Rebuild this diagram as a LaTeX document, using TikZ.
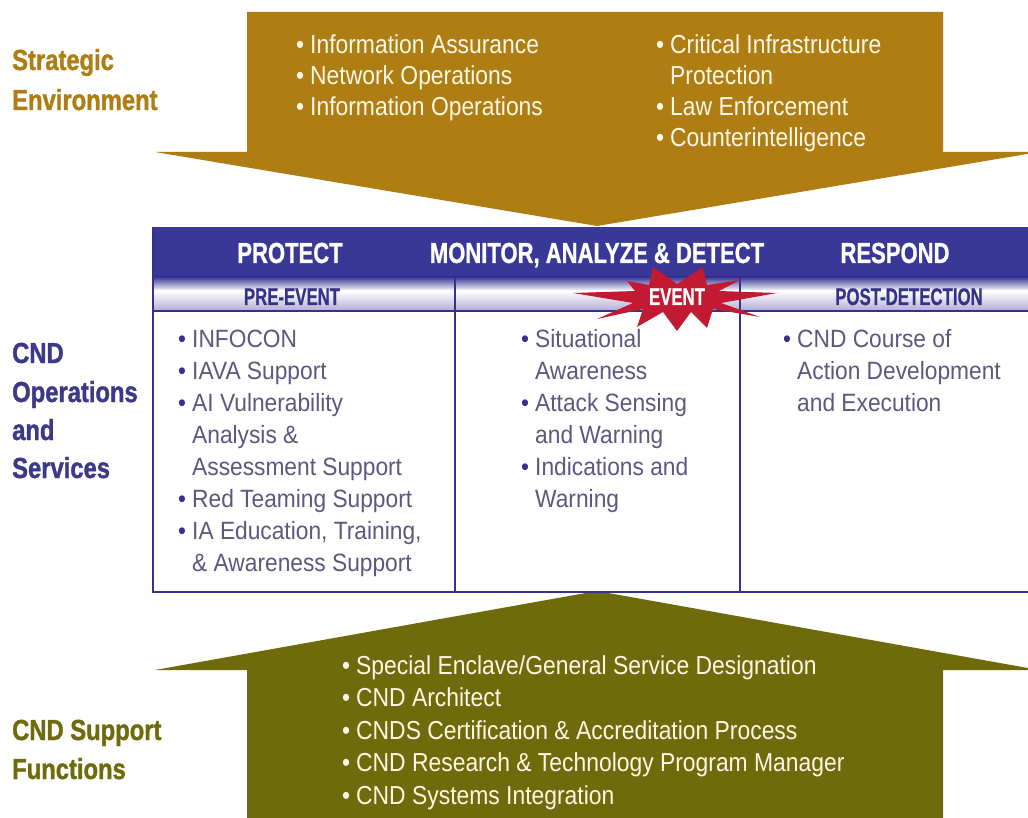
\documentclass[tikz,border=0pt]{standalone}
\usepackage{fontspec}
\setmainfont{Liberation Sans}
\newfontfamily\arrowfont{Liberation Sans}[FakeStretch=0.88]
\newfontfamily\tablefont{Liberation Sans}[FakeStretch=0.91]
\newfontfamily\labelfont{Liberation Sans}[FakeStretch=0.82,FakeBold=1.2]
\newfontfamily\headfont{Liberation Sans}[FakeStretch=0.76,FakeBold=0.8]
\newfontfamily\subfont{Liberation Sans}[FakeStretch=0.70,FakeBold=0.6]

\definecolor{seGold}{HTML}{AE7E14}
\definecolor{supOlive}{HTML}{6F6A0C}
\definecolor{hdrBlue}{HTML}{3A3896}
\definecolor{navyInk}{HTML}{35328A}
\definecolor{opsInk}{HTML}{3C3A88}
\definecolor{lavShade}{HTML}{B4B0D6}
\definecolor{itemInk}{HTML}{5C5880}
\definecolor{creamInk}{HTML}{FFF7E6}
\definecolor{burstRed}{HTML}{C21A33}

% bullets hang to the left of the text start
\newcommand\abul{\llap{\textbullet\hspace{6pt}}}
\newcommand\tbul{\llap{\textcolor{navyInk}{\textbullet}\hspace{6pt}}}

\begin{document}
\begin{tikzpicture}[x=1pt,y=-1pt,
  lbl/.style={anchor=base west, inner sep=0, font=\labelfont\bfseries\fontsize{29}{29}\selectfont},
  atext/.style={anchor=base west, inner sep=0, text=creamInk, font=\arrowfont\fontsize{26}{26}\selectfont},
  ttext/.style={anchor=base west, inner sep=0, text=itemInk, font=\tablefont\fontsize{25}{25}\selectfont},
  htext/.style={anchor=base, inner sep=0, text=white, font=\headfont\bfseries\fontsize{29}{29}\selectfont},
  stext/.style={anchor=base, inner sep=0, text=navyInk, font=\subfont\bfseries\fontsize{24}{24}\selectfont},
  rule/.style={draw=navyInk, line width=2pt},
]
\useasboundingbox (0,0) rectangle (1028,818);
\fill[white] (0,0) rectangle (1028,818);

% ---------- strategic environment arrow (pointing down) ----------
\fill[seGold] (247,12) -- (943,12) -- (943,152) -- (1039,152) -- (597,226)
  -- (155,152) -- (247,152) -- cycle;

\node[atext] (ia)  at (310,54)  {\abul Information Assurance};
\node[atext] (no)  at (310,85)  {\abul Network Operations};
\node[atext] (io)  at (310,116) {\abul Information Operations};
\node[atext] (cip) at (670,54)  {\abul Critical Infrastructure};
\node[atext] (cip2) at (670,85) {Protection};
\node[atext] (le)  at (670,116) {\abul Law Enforcement};
\node[atext] (ci)  at (670,147) {\abul Counterintelligence};

% ---------- support functions arrow (pointing up) ----------
\fill[supOlive] (597,591) -- (1039,670) -- (943,670) -- (943,818) -- (247,818)
  -- (247,670) -- (155,670) -- cycle;

\node[atext] (s1) at (356,674)   {\abul Special Enclave/General Service Designation};
\node[atext] (s2) at (356,706.5) {\abul CND Architect};
\node[atext] (s3) at (356,739)   {\abul CNDS Certification \& Accreditation Process};
\node[atext] (s4) at (356,771.5) {\abul CND Research \& Technology Program Manager};
\node[atext] (s5) at (356,804)   {\abul CND Systems Integration};

% ---------- operations table ----------
\fill[hdrBlue] (153,227) rectangle (1028,277);
\shade[top color=hdrBlue, bottom color=white] (153,277) rectangle (1028,291);
\shade[top color=white, bottom color=lavShade] (153,291) rectangle (1028,310);
\draw[rule] (153,311) -- (1028,311);
\draw[rule] (153,227) -- (153,592) -- (1028,592);
\draw[rule] (455,277) -- (455,592);
\draw[rule] (740,277) -- (740,592);

\node[htext] (protect) at (290,263) {PROTECT};
\node[htext] (monitor) at (597,263) {MONITOR, ANALYZE \& DETECT};
\node[htext] (respond) at (895,263) {RESPOND};

\node[stext] (pre)  at (292,305) {PRE-EVENT};
\node[stext] (post) at (909,305) {POST-DETECTION};

% event burst
\begin{scope}[shift={(677,297)}]
  \fill[burstRed] (-104,-4) -- (-42,-6) -- (-50,-16) -- (-28,-12) -- (-24,-30)
    -- (0,-13) -- (26,-30) -- (30,-12) -- (63,-17) -- (42,-6) -- (100,-4)
    -- (44,6) -- (83,20) -- (36,12) -- (30,31) -- (14,15) -- (0,34)
    -- (-14,15) -- (-40,30) -- (-34,12) -- (-80,22) -- (-44,6) -- cycle;
\end{scope}
\node[stext, text=white] (event) at (677,305) {EVENT};

% pre-event column
\node[ttext] (p1) at (192,347)   {\tbul INFOCON};
\node[ttext] (p2) at (192,379.1) {\tbul IAVA Support};
\node[ttext] (p3) at (192,411.2) {\tbul AI Vulnerability};
\node[ttext] (p4) at (192,443.3) {Analysis \&};
\node[ttext] (p5) at (192,475.4) {Assessment Support};
\node[ttext] (p6) at (192,507.5) {\tbul Red Teaming Support};
\node[ttext] (p7) at (192,539.6) {\tbul IA Education, Training,};
\node[ttext] (p8) at (192,571.7) {\& Awareness Support};

% event column
\node[ttext] (m1) at (535,347)   {\tbul Situational};
\node[ttext] (m2) at (535,379.1) {Awareness};
\node[ttext] (m3) at (535,411.2) {\tbul Attack Sensing};
\node[ttext] (m4) at (535,443.3) {and Warning};
\node[ttext] (m5) at (535,475.4) {\tbul Indications and};
\node[ttext] (m6) at (535,507.5) {Warning};

% post-detection column
\node[ttext] (r1) at (797,347)   {\tbul CND Course of};
\node[ttext] (r2) at (797,379.1) {Action Development};
\node[ttext] (r3) at (797,411.2) {and Execution};

% ---------- side labels ----------
\node[lbl, text=seGold] (se1) at (12,70)  {Strategic};
\node[lbl, text=seGold] (se2) at (12,110) {Environment};

\node[lbl, text=opsInk] (op1) at (12,363) {CND};
\node[lbl, text=opsInk] (op2) at (12,402) {Operations};
\node[lbl, text=opsInk] (op3) at (12,440) {and};
\node[lbl, text=opsInk] (op4) at (12,478) {Services};

\node[lbl, text=supOlive] (sf1) at (12,740) {CND Support};
\node[lbl, text=supOlive] (sf2) at (12,779) {Functions};
\end{tikzpicture}
\end{document}
